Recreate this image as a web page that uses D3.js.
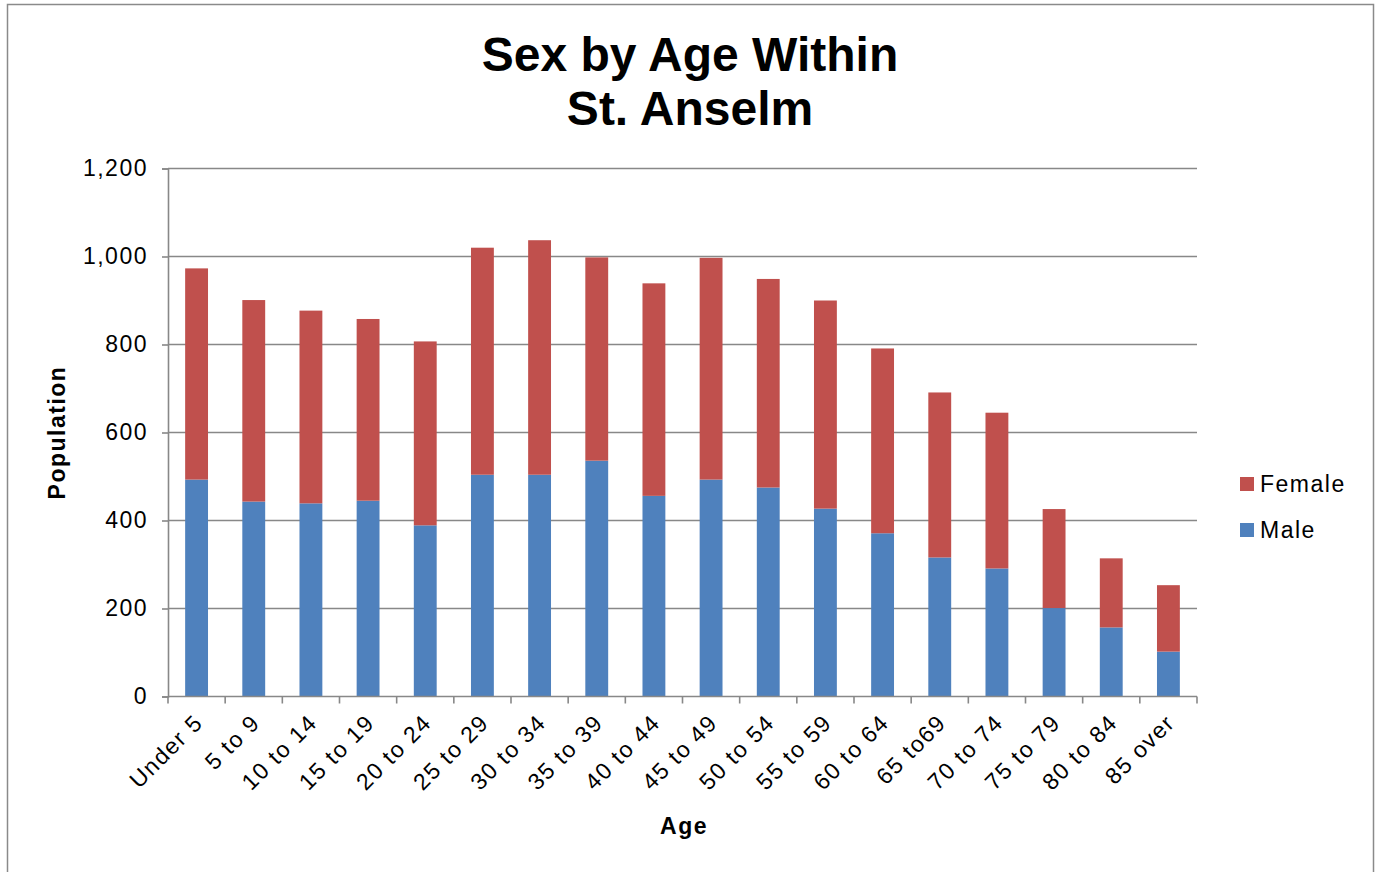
<!DOCTYPE html>
<html>
<head>
<meta charset="utf-8">
<script src="https://cdn.jsdelivr.net/npm/d3@7"></script>
<style>
  body { margin: 0; background: #fff; }
  text { font-family: "Liberation Sans", Arial, sans-serif; }
</style>
</head>
<body>
<div id="chart"></div>
<script>
const ageGroups = ["Under 5", "5 to 9", "10 to 14", "15 to 19", "20 to 24", "25 to 29",
  "30 to 34", "35 to 39", "40 to 44", "45 to 49", "50 to 54", "55 to 59",
  "60 to 64", "65 to69", "70 to 74", "75 to 79", "80 to 84", "85 over"];
const male = [493, 443, 439, 445, 389, 504, 504, 536, 456, 493, 475, 427, 371, 316, 291, 201, 157, 102];
const female = [480, 458, 438, 413, 418, 516, 533, 462, 483, 504, 474, 473, 420, 375, 354, 225, 157, 151];
const yTicks = [0, 200, 400, 600, 800, 1000, 1200];
const seriesNames = ["Male", "Female"];
const colors = { Male: "#4F81BD", Female: "#C0504D" };

const w = 1377, h = 872;
const plotLeft = 168, plotRight = 1197, plotTop = 168.5, plotBottom = 696.5;
const fs = 23, ls = 1.5; // label font size / letter spacing

const svg = d3.select("#chart").append("svg")
  .attr("width", w)
  .attr("height", h);

// outer border
svg.append("rect")
  .attr("x", 7.5).attr("y", 4.5)
  .attr("width", 1366).attr("height", 880)
  .attr("fill", "none")
  .attr("stroke", "#8a8a8a")
  .attr("stroke-width", 1.5);

const rows = ageGroups.map((g, i) => ({ age: g, Male: male[i], Female: female[i] }));
const stacked = d3.stack().keys(seriesNames)(rows);

const x = d3.scaleBand()
  .domain(ageGroups)
  .range([plotLeft, plotRight])
  .paddingInner(0.6)
  .paddingOuter(0.3);

const y = d3.scaleLinear()
  .domain([0, 1200])
  .range([plotBottom, plotTop]);

// gridlines
svg.append("g")
  .selectAll("line")
  .data(yTicks.slice(1))
  .enter()
  .append("line")
  .attr("x1", plotLeft).attr("x2", plotRight)
  .attr("y1", (d) => y(d)).attr("y2", (d) => y(d))
  .attr("stroke", "#888")
  .attr("stroke-width", 1.6);

// bars
svg.append("g")
  .selectAll("g")
  .data(stacked)
  .enter()
  .append("g")
  .attr("fill", (d) => colors[d.key])
  .selectAll("rect")
  .data((d) => d)
  .enter()
  .append("rect")
  .attr("x", (d) => x(d.data.age))
  .attr("y", (d) => y(d[1]))
  .attr("width", x.bandwidth())
  .attr("height", (d) => y(d[0]) - y(d[1]));

// y axis
const yAxis = d3.axisLeft(y)
  .tickValues(yTicks)
  .tickSize(6)
  .tickPadding(14)
  .tickFormat(d3.format(","));
const gy = svg.append("g")
  .attr("transform", "translate(" + plotLeft + ",0)")
  .call(yAxis);
gy.select(".domain").attr("stroke", "#888").attr("stroke-width", 1.6);
gy.selectAll(".tick line").attr("stroke", "#888").attr("stroke-width", 1.6);
gy.selectAll("text").attr("font-size", fs).attr("fill", "#000")
  .attr("letter-spacing", ls)
  .attr("font-family", "Liberation Sans, Arial, sans-serif");

// x axis: ticks at band boundaries
svg.append("line")
  .attr("x1", plotLeft).attr("x2", plotRight)
  .attr("y1", plotBottom).attr("y2", plotBottom)
  .attr("stroke", "#888").attr("stroke-width", 1.6);
const step = x.step();
const boundaries = d3.range(ageGroups.length + 1).map((i) => plotLeft + i * step);
svg.append("g")
  .selectAll("line")
  .data(boundaries)
  .enter()
  .append("line")
  .attr("x1", (d) => d).attr("x2", (d) => d)
  .attr("y1", plotBottom).attr("y2", plotBottom + 7)
  .attr("stroke", "#888").attr("stroke-width", 1.6);

svg.append("g")
  .selectAll("text")
  .data(ageGroups)
  .enter()
  .append("text")
  .attr("transform", (d) => "translate(" + (x(d) + x.bandwidth() / 2 + 2) + "," + (plotBottom + 22) + ") rotate(-45)")
  .attr("text-anchor", "end")
  .attr("dy", "0.35em")
  .attr("font-size", fs)
  .attr("letter-spacing", ls)
  .text((d) => d);

// titles
const title = svg.append("text")
  .attr("x", 690)
  .attr("text-anchor", "middle")
  .attr("font-size", 48)
  .attr("font-weight", "bold");
title.append("tspan").attr("x", 690).attr("y", 71).text("Sex by Age Within");
title.append("tspan").attr("x", 690).attr("y", 125).text("St. Anselm");

svg.append("text")
  .attr("transform", "translate(65," + ((plotTop + plotBottom) / 2) + ") rotate(-90)")
  .attr("text-anchor", "middle")
  .attr("font-size", fs)
  .attr("letter-spacing", ls)
  .attr("font-weight", "bold")
  .text("Population");

svg.append("text")
  .attr("x", 684)
  .attr("y", 834)
  .attr("text-anchor", "middle")
  .attr("font-size", fs)
  .attr("letter-spacing", ls)
  .attr("font-weight", "bold")
  .text("Age");

// legend
const legendItems = ["Female", "Male"];
const legend = svg.append("g")
  .selectAll("g")
  .data(legendItems)
  .enter()
  .append("g")
  .attr("transform", (d, i) => "translate(1240," + (477 + i * 46) + ")");
legend.append("rect")
  .attr("width", 14).attr("height", 14)
  .attr("fill", (d) => colors[d]);
legend.append("text")
  .attr("x", 20)
  .attr("y", 7)
  .attr("dy", "0.35em")
  .attr("font-size", fs)
  .attr("letter-spacing", ls)
  .text((d) => d);
</script>
</body>
</html>
